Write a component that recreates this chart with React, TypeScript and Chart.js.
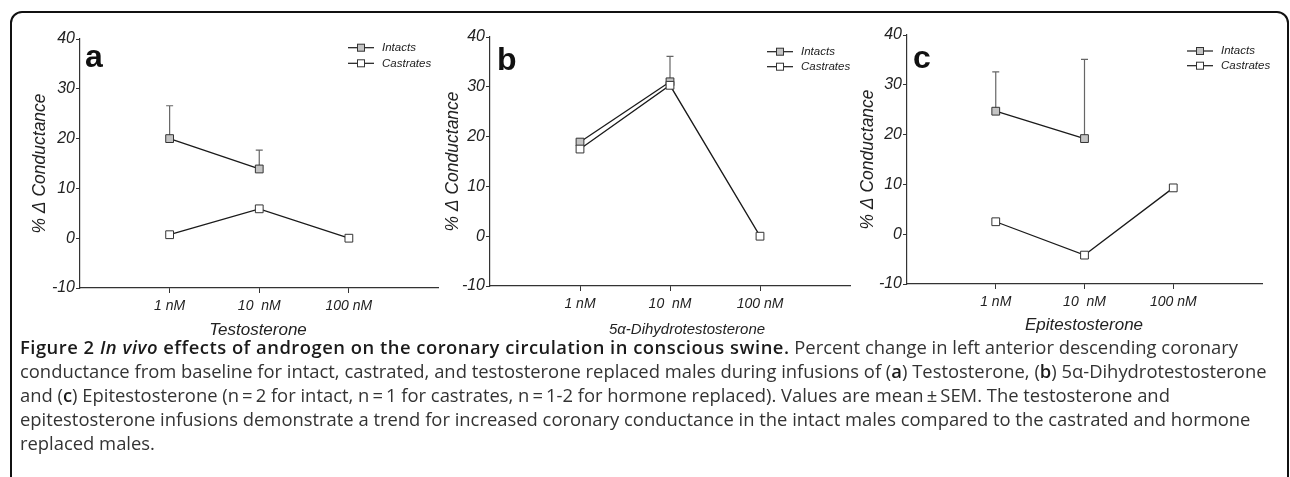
import React, { useEffect, useRef } from 'react';
import { Chart, registerables } from 'chart.js';

Chart.register(...registerables);

// ---------- data ----------
const CATEGORIES = ['1 nM', '10  nM', '100 nM'];
const Y_TICKS = [-10, 0, 10, 20, 30, 40];
const SERIES_NAMES = ['Intacts', 'Castrates'];
const Y_TITLE = '% \u0394 Conductance';
const PANEL_LETTERS = ['a', 'b', 'c'];
const X_TITLES = ['Testosterone', '5\u03b1-Dihydrotestosterone', 'Epitestosterone'];

const A_INTACTS = [20.0, 13.9, null];
const A_INTACTS_SEM = [6.6, 3.8, null];
const A_CASTRATES = [0.7, 5.9, 0.0];

const B_INTACTS = [18.9, 31.0, null];
const B_INTACTS_SEM = [null, 5.1, null];
const B_CASTRATES = [17.5, 30.3, 0.0];

const C_INTACTS = [24.7, 19.2, null];
const C_INTACTS_SEM = [7.9, 15.9, null];
const C_CASTRATES = [2.5, -4.2, 9.3];

// ---------- styles ----------
const FONT = '"Liberation Sans", Arial, Helvetica, sans-serif';
const TEXT = '#222';
const AXIS = '#333';
const LINE = '#1a1a1a';
const ERR = '#666';
const INTACT_FILL = '#c4c4c4';
const CASTRATE_FILL = '#ffffff';
const CANVAS_H = 345;
const PLOT_H = 249;

type Spec = {
  letter: string;
  xTitle: string;
  intacts: (number | null)[];
  sem: (number | null)[];
  castrates: (number | null)[];
  canvasLeft: number;
  canvasWidth: number;
  plotLeft: number;
  plotRight: number;
  plotTop: number;
  yTitleX: number;
  xTitleX: number;
  xTitleY: number;
  xTitleSize: number;
  letterX: number;
  letterY: number;
  legendX: number;
  legendTextX: number;
  legendY: number[];
};

const PANELS: Spec[] = [
  {
    letter: PANEL_LETTERS[0], xTitle: X_TITLES[0],
    intacts: A_INTACTS, sem: A_INTACTS_SEM, castrates: A_CASTRATES,
    canvasLeft: 0, canvasWidth: 445, plotLeft: 80, plotRight: 440, plotTop: 39,
    yTitleX: 40, xTitleX: 258, xTitleY: 330, xTitleSize: 17,
    letterX: 85, letterY: 67, legendX: 361, legendTextX: 382, legendY: [47.7, 63.3],
  },
  {
    letter: PANEL_LETTERS[1], xTitle: X_TITLES[1],
    intacts: B_INTACTS, sem: B_INTACTS_SEM, castrates: B_CASTRATES,
    canvasLeft: 430, canvasWidth: 430, plotLeft: 490, plotRight: 850, plotTop: 37,
    yTitleX: 453, xTitleX: 687, xTitleY: 330, xTitleSize: 15,
    letterX: 497, letterY: 70, legendX: 780, legendTextX: 801, legendY: [51.7, 66.7],
  },
  {
    letter: PANEL_LETTERS[2], xTitle: X_TITLES[2],
    intacts: C_INTACTS, sem: C_INTACTS_SEM, castrates: C_CASTRATES,
    canvasLeft: 840, canvasWidth: 450, plotLeft: 907, plotRight: 1262, plotTop: 35,
    yTitleX: 868, xTitleX: 1084, xTitleY: 325, xTitleSize: 17,
    letterX: 913, letterY: 68, legendX: 1200, legendTextX: 1221, legendY: [51, 65.7],
  },
];

function Panel({ spec }: { spec: Spec }) {
  const ref = useRef<HTMLCanvasElement>(null);

  useEffect(() => {
    const L = spec.canvasLeft;
    const plotBottom = spec.plotTop + PLOT_H;
    const yTitleSize = 17.5;
    const yTitleLH = yTitleSize * 1.2;

    const overlay = {
      id: 'overlay',
      beforeDatasetsDraw(chart: any) {
        const ctx = chart.ctx;
        const xs = chart.scales.x;
        const ys = chart.scales.y;
        ctx.save();
        ctx.strokeStyle = ERR;
        ctx.lineWidth = 1.2;
        chart.data.datasets.forEach((ds: any) => {
          if (!ds.sem) return;
          ds.data.forEach((p: any, i: number) => {
            const e = ds.sem[i];
            if (p.y == null || e == null) return;
            const px = xs.getPixelForValue(p.x);
            const y0 = ys.getPixelForValue(p.y);
            const y1 = ys.getPixelForValue(p.y + e);
            ctx.beginPath();
            ctx.moveTo(px, y0);
            ctx.lineTo(px, y1);
            ctx.moveTo(px - 3.5, y1);
            ctx.lineTo(px + 3.5, y1);
            ctx.stroke();
          });
        });
        ctx.restore();
      },
      afterDraw(chart: any) {
        const ctx = chart.ctx;
        ctx.save();
        // panel letter
        ctx.font = `bold 32px ${FONT}`;
        ctx.fillStyle = '#111';
        ctx.textAlign = 'left';
        ctx.textBaseline = 'alphabetic';
        ctx.fillText(spec.letter, spec.letterX - L, spec.letterY);
        // x axis title
        ctx.font = `italic ${spec.xTitleSize}px ${FONT}`;
        ctx.fillStyle = TEXT;
        ctx.textAlign = 'center';
        ctx.textBaseline = 'middle';
        ctx.fillText(spec.xTitle, spec.xTitleX - L, spec.xTitleY);
        // legend
        chart.data.datasets.forEach((ds: any, i: number) => {
          const y = spec.legendY[i];
          const cx = spec.legendX - L;
          ctx.strokeStyle = ds.borderColor;
          ctx.lineWidth = 1.2;
          ctx.beginPath();
          ctx.moveTo(cx - 13, y);
          ctx.lineTo(cx + 13, y);
          ctx.stroke();
          ctx.fillStyle = ds.pointBackgroundColor;
          ctx.fillRect(cx - 3.5, y - 3.5, 7, 7);
          ctx.strokeStyle = ds.pointBorderColor;
          ctx.lineWidth = 1;
          ctx.strokeRect(cx - 3.5, y - 3.5, 7, 7);
          ctx.fillStyle = TEXT;
          ctx.font = `italic 11.5px ${FONT}`;
          ctx.textAlign = 'left';
          ctx.textBaseline = 'middle';
          ctx.fillText(ds.label, spec.legendTextX - L, y);
        });
        ctx.restore();
      },
    };

    const toPoints = (arr: (number | null)[]) => arr.map((y, i) => ({ x: i + 1, y }));

    const chart = new Chart(ref.current as HTMLCanvasElement, {
      type: 'line',
      data: {
        datasets: [
          {
            label: SERIES_NAMES[0],
            data: toPoints(spec.intacts) as any,
            sem: spec.sem,
            order: 1,
            borderColor: LINE,
            borderWidth: 1.3,
            pointStyle: 'rect',
            pointRadius: 5.5,
            pointBackgroundColor: INTACT_FILL,
            pointBorderColor: AXIS,
            pointBorderWidth: 1,
            spanGaps: false,
            tension: 0,
          } as any,
          {
            label: SERIES_NAMES[1],
            data: toPoints(spec.castrates) as any,
            order: 0,
            borderColor: LINE,
            borderWidth: 1.3,
            pointStyle: 'rect',
            pointRadius: 5.5,
            pointBackgroundColor: CASTRATE_FILL,
            pointBorderColor: AXIS,
            pointBorderWidth: 1,
            spanGaps: false,
            tension: 0,
          } as any,
        ],
      },
      options: {
        animation: false,
        responsive: false,
        maintainAspectRatio: false,
        events: [],
        layout: {
          padding: {
            left: 0,
            top: spec.plotTop,
            right: spec.canvasWidth - (spec.plotRight - L),
            bottom: 0,
          },
        },
        plugins: {
          legend: { display: false },
          tooltip: { enabled: false },
        },
        scales: {
          x: {
            type: 'linear',
            min: 0,
            max: CATEGORIES.length + 1,
            afterBuildTicks: (s: any) => {
              s.ticks = CATEGORIES.map((_, i) => ({ value: i + 1 }));
            },
            afterFit: (s: any) => {
              s.height = CANVAS_H - plotBottom;
            },
            ticks: {
              autoSkip: false,
              maxRotation: 0,
              padding: 5,
              color: TEXT,
              font: { family: FONT, size: 14, style: 'italic' },
              callback: (v: any) => CATEGORIES[Number(v) - 1] ?? '',
            },
            grid: {
              display: true,
              drawOnChartArea: false,
              drawTicks: true,
              tickLength: 5,
              color: AXIS,
              lineWidth: 1,
            },
            border: { display: true, color: AXIS, width: 1.2 },
          },
          y: {
            type: 'linear',
            min: Y_TICKS[0],
            max: Y_TICKS[Y_TICKS.length - 1],
            afterBuildTicks: (s: any) => {
              s.ticks = Y_TICKS.map((v) => ({ value: v }));
            },
            afterFit: (s: any) => {
              s.width = spec.plotLeft - L;
            },
            ticks: {
              padding: 1,
              color: TEXT,
              font: { family: FONT, size: 16, style: 'italic' },
              callback: (v: any) => String(v),
            },
            grid: {
              display: true,
              drawOnChartArea: false,
              drawTicks: true,
              tickLength: 4,
              color: AXIS,
              lineWidth: 1,
            },
            border: { display: true, color: AXIS, width: 1.2 },
            title: {
              display: true,
              text: Y_TITLE,
              color: TEXT,
              font: { family: FONT, size: yTitleSize, style: 'italic', lineHeight: 1.2 },
              padding: { top: spec.yTitleX - L - yTitleLH / 2, bottom: 0 },
            },
          },
        },
      } as any,
      plugins: [overlay],
    });
    return () => chart.destroy();
  }, [spec]);

  return (
    <canvas
      ref={ref}
      width={spec.canvasWidth}
      height={CANVAS_H}
      style={{
        position: 'absolute',
        left: spec.canvasLeft,
        top: 0,
        width: spec.canvasWidth,
        height: CANVAS_H,
      }}
    />
  );
}

const B: React.CSSProperties = { fontWeight: 600, color: '#1a1a1a' };
const BH: React.CSSProperties = { ...B, letterSpacing: '0.5px' };

export default function App() {
  return (
    <div
      style={{
        position: 'fixed',
        left: 0,
        top: 0,
        width: 1290,
        height: 477,
        background: '#fff',
        overflow: 'hidden',
      }}
    >
      <div
        style={{
          position: 'absolute',
          left: 10,
          top: 11,
          width: 1279,
          height: 520,
          border: '2px solid #111',
          borderRadius: 12,
          boxSizing: 'border-box',
        }}
      />
      {PANELS.map((p) => (
        <Panel key={p.letter} spec={p} />
      ))}
      <div
        style={{
          position: 'absolute',
          left: 20,
          top: 335,
          fontFamily: '"Open Sans", Lato, sans-serif',
          fontSize: 18.4,
          lineHeight: '24px',
          color: '#333',
          whiteSpace: 'nowrap',
        }}
      >
        <div>
          <span style={BH}>Figure 2 </span>
          <span style={{ ...BH, fontStyle: 'italic' }}>In vivo</span>
          <span style={BH}> effects of androgen on the coronary circulation in conscious swine.</span>
          {' '}Percent change in left anterior descending coronary
        </div>
        <div>
          conductance from baseline for intact, castrated, and testosterone replaced males during infusions of (
          <span style={B}>a</span>) Testosterone, (<span style={B}>b</span>) 5α-Dihydrotestosterone
        </div>
        <div>
          and (<span style={B}>c</span>) Epitestosterone (n{'\u2009'}={'\u2009'}2 for intact, n{'\u2009'}={'\u2009'}1 for
          castrates, n{'\u2009'}={'\u2009'}1-2 for hormone replaced). Values are mean{'\u2009'}±{'\u2009'}SEM. The testosterone and
        </div>
        <div>
          epitestosterone infusions demonstrate a trend for increased coronary conductance in the intact males compared to
          the castrated and hormone
        </div>
        <div>replaced males.</div>
      </div>
    </div>
  );
}
